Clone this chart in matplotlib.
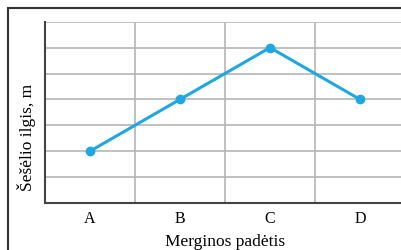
import matplotlib
matplotlib.use("Agg")
import matplotlib.pyplot as plt
from matplotlib.patches import Rectangle

categories = ["A", "B", "C", "D"]
values = [2, 4, 6, 4]
x_label = "Merginos padėtis"
y_label = "Šešėlio ilgis, m"

plt.rcParams['font.family'] = ['Liberation Serif', 'DejaVu Serif']

fig = plt.figure(figsize=(4.01, 2.5), dpi=100)
ax_h = (203 - 21.7)
ax = fig.add_axes([45/401, 1-203/250, 360/401, ax_h/250])

xs = [i + 0.5 for i in range(len(categories))]
ax.plot(xs, values, color='#1ea7e1', lw=2.2, marker='o', markersize=6, zorder=3, clip_on=False)

ax.set_xlim(0, 4)
ax.set_ylim(0, 7)
ax.set_xticks([1, 2, 3, 4])
ax.set_xticks(xs, minor=True)
ax.set_xticklabels([])
ax.set_xticklabels(categories, minor=True, fontsize=11.5)
ax.set_yticks(range(1, 8))
ax.set_yticklabels([])
ax.tick_params(which='both', length=0, pad=6)
ax.grid(True, which='major', color='#b5b5b5', lw=1.2)
for s in ['top', 'right']:
    ax.spines[s].set_visible(False)
for s in ['left', 'bottom']:
    ax.spines[s].set_color('#444444')
    ax.spines[s].set_linewidth(1.5)
ax.set_xlabel(x_label, fontsize=12.5)
ax.xaxis.label.set_va('center')
ax.xaxis.set_label_coords(0.5, (203 - 242) / ax_h)
ax.set_ylabel(y_label, fontsize=12.5)
ax.yaxis.label.set_va('center')
ax.yaxis.set_label_coords((27 - 45) / 360, (203 - 137) / ax_h)

fig.add_artist(Rectangle((8/401, -0.1), 1.1, 1.1 - 8/250, transform=fig.transFigure,
                         fill=False, lw=1.5, ec='#333333'))

fig.savefig("out.png", dpi=100)
